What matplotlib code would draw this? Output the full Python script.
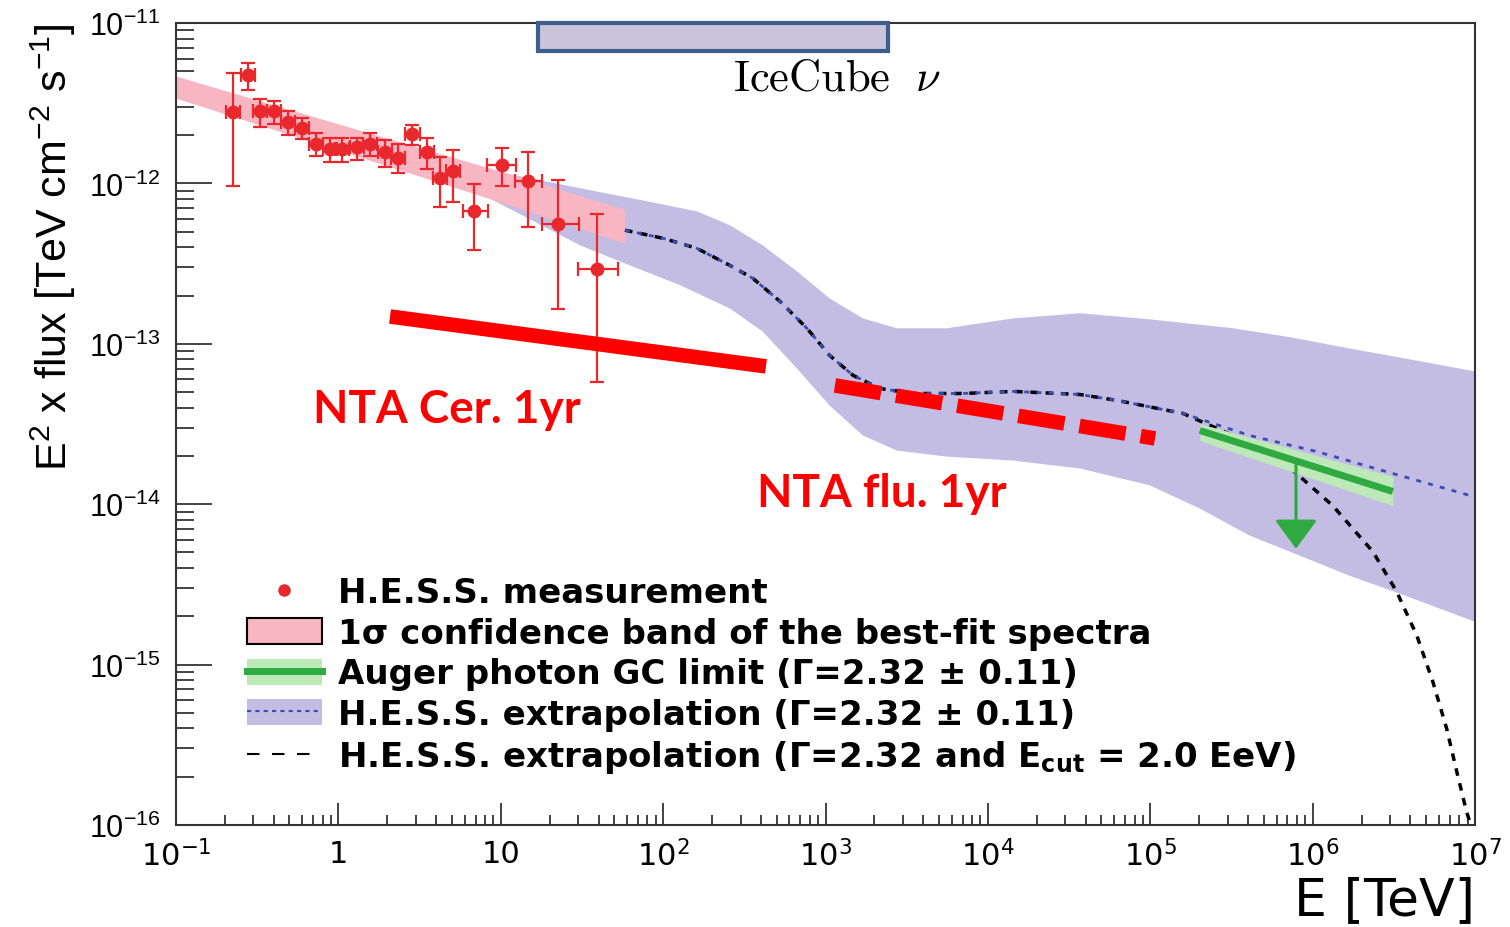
import numpy as np
import matplotlib
matplotlib.use('Agg')
import matplotlib.pyplot as plt
from matplotlib.patches import Patch, Rectangle
from matplotlib.lines import Line2D
from matplotlib.ticker import FixedLocator, LogLocator, NullFormatter
from matplotlib.font_manager import FontProperties, fontManager

# ---- data ----

# H.E.S.S. measurement (E in TeV, E^2 x flux in TeV cm^-2 s^-1)
hess_E = [0.225, 0.279, 0.329, 0.401, 0.492, 0.600, 0.725, 0.888, 1.06, 1.30, 1.57,
          1.94, 2.34, 2.86, 3.50, 4.23, 5.10, 6.84, 10.2, 14.8, 22.4, 38.9]
hess_E_lo = [0.204, 0.253, 0.298, 0.363, 0.446, 0.543, 0.657, 0.804, 0.960, 1.18, 1.42,
             1.76, 2.12, 2.59, 3.17, 3.83, 4.62, 5.88, 8.26, 12.2, 17.9, 30.0]
hess_E_hi = [0.248, 0.308, 0.363, 0.443, 0.543, 0.662, 0.800, 0.980, 1.17, 1.44, 1.73,
             2.14, 2.58, 3.16, 3.86, 4.67, 5.63, 8.37, 12.5, 17.9, 30.4, 52.5]
hess_F = [2.78e-12, 4.72e-12, 2.81e-12, 2.81e-12, 2.41e-12, 2.21e-12, 1.76e-12, 1.64e-12,
          1.64e-12, 1.68e-12, 1.76e-12, 1.58e-12, 1.45e-12, 2.03e-12, 1.58e-12, 1.08e-12,
          1.20e-12, 6.73e-13, 1.31e-12, 1.04e-12, 5.58e-13, 2.92e-13]
hess_F_hi = [4.88e-12, 5.65e-12, 3.36e-12, 3.27e-12, 2.81e-12, 2.55e-12, 2.06e-12, 1.91e-12,
             1.91e-12, 1.93e-12, 2.06e-12, 1.87e-12, 1.76e-12, 2.32e-12, 1.91e-12, 1.47e-12,
             1.62e-12, 9.9e-13, 1.66e-12, 1.56e-12, 1.05e-12, 6.43e-13]
hess_F_lo = [9.6e-13, 3.80e-12, 2.26e-12, 2.34e-12, 1.99e-12, 1.89e-12, 1.49e-12, 1.35e-12,
             1.35e-12, 1.39e-12, 1.49e-12, 1.27e-12, 1.16e-12, 1.73e-12, 1.23e-12, 7.08e-13,
             7.7e-13, 3.85e-13, 9.6e-13, 5.38e-13, 1.64e-13, 5.82e-14]

# 1 sigma confidence band of the best-fit spectrum
band_E = [0.1, 1.0, 10.0, 58.0]
band_hi = [4.67e-12, 2.35e-12, 1.19e-12, 6.90e-13]
band_lo = [3.40e-12, 1.61e-12, 7.64e-13, 4.24e-13]

# H.E.S.S. extrapolation band (Gamma = 2.32 +- 0.11)
ext_up_E = [2.23, 6.46, 30.8, 79.4, 161, 258, 411, 667, 1060, 1700, 2750, 5600, 14300,
            36900, 99500, 3.23e5, 7.24e5, 1.69e6, 3.97e6, 1e7]
ext_up_F = [1.66e-12, 1.28e-12, 9.33e-13, 7.74e-13, 6.70e-13, 5.48e-13, 4.11e-13, 2.83e-13,
            1.92e-13, 1.44e-13, 1.25e-13, 1.25e-13, 1.44e-13, 1.55e-13, 1.42e-13, 1.25e-13,
            1.10e-13, 9.35e-14, 8.00e-14, 6.73e-14]
ext_lo_E = [2.23, 6.46, 30.8, 62.5, 127, 258, 411, 667, 1060, 1700, 2750, 5600, 14300,
            36900, 99500, 2.02e5, 4.10e5, 8.34e5, 1.69e6, 3.44e6, 1e7]
ext_lo_F = [1.44e-12, 9.33e-13, 4.11e-13, 3.08e-13, 2.32e-13, 1.66e-13, 1.19e-13, 7.02e-14,
            4.12e-14, 2.68e-14, 2.16e-14, 1.98e-14, 1.87e-14, 1.67e-14, 1.31e-14, 9.39e-15,
            6.37e-15, 4.78e-15, 3.58e-15, 2.77e-15, 1.85e-15]

# central extrapolation (blue dotted) and with E_cut = 2.0 EeV (black dashed)
mid_E = [58.2, 99.7, 161, 258, 357, 524, 768, 1060, 1480, 2160, 3450, 7010, 14300, 36900,
         62200, 1.59e5, 4.10e5, 1.06e6, 2.70e6, 1e7]
mid_F = [5.11e-13, 4.55e-13, 3.94e-13, 3.08e-13, 2.56e-13, 1.84e-13, 1.25e-13, 8.47e-14,
         6.35e-14, 5.27e-14, 4.90e-14, 4.90e-14, 5.05e-14, 4.83e-14, 4.44e-14, 3.68e-14,
         2.68e-14, 2.13e-14, 1.62e-14, 1.11e-14]
cut_E = [58.2, 99.7, 161, 258, 357, 524, 768, 1060, 1480, 2160, 3450, 7010, 14300, 36900,
         62200, 1.59e5, 3.23e5, 6.55e5, 1.33e6, 2.35e6, 3.30e6, 4.39e6, 5.50e6, 6.70e6,
         7.73e6, 8.89e6, 9.44e6]
cut_F = [5.11e-13, 4.55e-13, 3.94e-13, 3.08e-13, 2.56e-13, 1.84e-13, 1.25e-13, 8.47e-14,
         6.35e-14, 5.27e-14, 4.90e-14, 4.90e-14, 5.05e-14, 4.83e-14, 4.44e-14, 3.68e-14,
         2.68e-14, 1.85e-14, 9.79e-15, 5.06e-15, 2.84e-15, 1.51e-15, 7.82e-16, 3.97e-16,
         2.14e-16, 1.20e-16, 1.0e-16]

# Auger photon GC limit
auger_E = [2.02e5, 3.12e6]
auger_F = [2.88e-14, 1.20e-14]
auger_hi = [3.18e-14, 1.49e-14]
auger_lo = [2.49e-14, 9.79e-15]
arrow_E = 7.9e5
arrow_F = [1.90e-14, 5.28e-15]

# NTA sensitivities
nta_cer_E = [2.08, 430]
nta_cer_F = [1.48e-13, 7.23e-14]
nta_flu_E = [1143, 1.07e5]
nta_flu_F = [5.50e-14, 2.57e-14]

# IceCube neutrino range
icecube_E = [17, 2420]
icecube_F = [6.68e-12, 1.0e-11]

x_ticks = [1e-1, 1, 10, 1e2, 1e3, 1e4, 1e5, 1e6, 1e7]
x_labels = [r'$\mathdefault{10^{-1}}$', '1', '10', r'$\mathdefault{10^{2}}$',
            r'$\mathdefault{10^{3}}$', r'$\mathdefault{10^{4}}$', r'$\mathdefault{10^{5}}$',
            r'$\mathdefault{10^{6}}$', r'$\mathdefault{10^{7}}$']
y_ticks = [1e-16, 1e-15, 1e-14, 1e-13, 1e-12, 1e-11]
y_labels = [r'$\mathdefault{10^{-16}}$', r'$\mathdefault{10^{-15}}$', r'$\mathdefault{10^{-14}}$',
            r'$\mathdefault{10^{-13}}$', r'$\mathdefault{10^{-12}}$', r'$\mathdefault{10^{-11}}$']

# ---- style ----
plt.rcParams['font.family'] = ['Liberation Sans', 'DejaVu Sans']
plt.rcParams['mathtext.fontset'] = 'custom'
plt.rcParams['mathtext.rm'] = 'Liberation Sans'
plt.rcParams['mathtext.it'] = 'Liberation Sans:italic'
plt.rcParams['mathtext.bf'] = 'Liberation Sans:bold'

names = {f.name for f in fontManager.ttflist}
yfont = 'Liberation Sans Narrow' if 'Liberation Sans Narrow' in names else 'Liberation Sans'

red = '#e8282d'
pink = '#f8b6c3'
lavender = '#c3bde4'
blue = '#3a4db0'
green = '#2eaa40'
lightgreen = '#bde8b8'

fig = plt.figure(figsize=(15.1, 9.28), dpi=100)
ax = fig.add_axes([176 / 1510, 1 - 826 / 928, 1299 / 1510, 802 / 928])
ax.set_xscale('log')
ax.set_yscale('log')
ax.set_xlim(0.1, 1e7)
ax.set_ylim(1e-16, 1e-11)

# bands
ax.fill(ext_up_E + ext_lo_E[::-1], ext_up_F + ext_lo_F[::-1], color=lavender, lw=0, zorder=1)
ax.fill_between(band_E, band_lo, band_hi, color=pink, lw=0, zorder=2)

# extrapolation lines
ax.plot(cut_E, cut_F, color='black', lw=2.5, ls=(0, (2.2, 2.2)), zorder=3)
ax.plot(mid_E, mid_F, color=blue, lw=2.0, ls=(0, (1.8, 2.6)), zorder=3)

# Auger limit
ax.fill_between(auger_E, auger_lo, auger_hi, color=lightgreen, lw=0, zorder=4)
ax.plot(auger_E, auger_F, color=green, lw=5, solid_capstyle='butt', zorder=4)
ax.annotate('', xy=(arrow_E, arrow_F[1]), xytext=(arrow_E, arrow_F[0]),
            arrowprops=dict(arrowstyle='-|>,head_length=0.72,head_width=0.53',
                            color=green, lw=2.2, mutation_scale=25, shrinkA=0, shrinkB=0),
            zorder=4)

# H.E.S.S. points
F = np.array(hess_F)
E = np.array(hess_E)
ax.errorbar(E, F, yerr=[F - np.array(hess_F_lo), np.array(hess_F_hi) - F],
            xerr=[E - np.array(hess_E_lo), np.array(hess_E_hi) - E],
            fmt='o', color=red, ms=9, elinewidth=1.6, capsize=5, capthick=1.6, zorder=5)

# NTA lines
ax.plot(nta_cer_E, nta_cer_F, color='#ff0000', lw=10.5, solid_capstyle='butt', zorder=6)
ax.plot(nta_flu_E, nta_flu_F, color='#ff0000', lw=10.5, dashes=(3.2, 1.05),
        dash_capstyle='butt', zorder=6)
ax.text(0.698, 3.95e-14, 'NTA Cer. 1yr', color='#ff0000', fontsize=33, fontweight='bold',
        family='Lato', ha='left', va='center')
ax.text(378, 1.18e-14, 'NTA flu. 1yr', color='#ff0000', fontsize=33, fontweight='bold',
        family='Lato', ha='left', va='center')

# IceCube box
ax.add_patch(Rectangle((icecube_E[0], icecube_F[0]), icecube_E[1] - icecube_E[0],
                       icecube_F[1] - icecube_F[0], facecolor='#cbc3dc', edgecolor='#3c5e8c',
                       lw=3, clip_on=False, zorder=7))
ax.text(269, 4.54e-12, r'$\mathrm{IceCube}\ \ \nu$', fontsize=32, math_fontfamily='cm',
        ha='left', va='center')

# axes
ax.xaxis.set_major_locator(FixedLocator(x_ticks))
ax.xaxis.set_minor_locator(LogLocator(base=10, subs=np.arange(2, 10), numticks=20))
ax.xaxis.set_minor_formatter(NullFormatter())
ax.set_xticklabels(x_labels, fontsize=22, fontfamily='DejaVu Sans')
ax.yaxis.set_major_locator(FixedLocator(y_ticks))
ax.yaxis.set_minor_locator(LogLocator(base=10, subs=np.arange(2, 10), numticks=20))
ax.yaxis.set_minor_formatter(NullFormatter())
ax.set_yticklabels(y_labels, fontsize=22, fontfamily=yfont)
ax.tick_params(axis='x', which='major', direction='in', length=16, width=1.2, pad=10,
               top=False, color='#222222')
ax.tick_params(axis='x', which='minor', direction='in', length=7, width=1.2, top=False,
               color='#222222')
ax.tick_params(axis='y', which='major', direction='in', length=26, width=1.2, pad=11,
               right=False, color='#222222')
ax.tick_params(axis='y', which='minor', direction='in', length=13, width=1.2, right=False,
               color='#222222')
for s in ax.spines.values():
    s.set_linewidth(1.5)
    s.set_color('#333333')

ax.set_xlabel('E [TeV]', fontsize=37.5, fontfamily='DejaVu Sans', loc='right', labelpad=3)
ax.set_ylabel(r'E$^{\mathdefault{2}}$ x flux [TeV cm$^{\mathdefault{-2}}$ s$^{\mathdefault{-1}}$]',
              fontsize=31, loc='top', labelpad=8)

# legend
handles = [
    Line2D([], [], marker='o', color=red, ls='none', ms=8),
    Patch(facecolor=pink, edgecolor='black', lw=1.5),
    (Patch(facecolor=lightgreen, edgecolor='none'), Line2D([], [], color=green, lw=5)),
    (Patch(facecolor=lavender, edgecolor='none'), Line2D([], [], color=blue, lw=1.5, ls=(0, (2, 2)))),
    Line2D([], [], color='black', lw=1.5, ls=(0, (6, 6))),
]
labels = [
    'H.E.S.S. measurement',
    '1σ confidence band of the best-fit spectra',
    'Auger photon GC limit (Γ=2.32 ± 0.11)',
    'H.E.S.S. extrapolation (Γ=2.32 ± 0.11)',
    r'H.E.S.S. extrapolation (Γ=2.32 and E$_{\mathdefault{cut}}$ = 2.0 EeV)',
]
ax.legend(handles, labels, loc='upper left', bbox_to_anchor=(0.0547, 0.310), frameon=False,
          prop=FontProperties(family='DejaVu Sans', weight='bold', size=24.5),
          handlelength=2.2, handletextpad=0.47, borderpad=0, borderaxespad=0,
          labelspacing=0.22, handleheight=0.8)

fig.savefig('out.png', dpi=100)
